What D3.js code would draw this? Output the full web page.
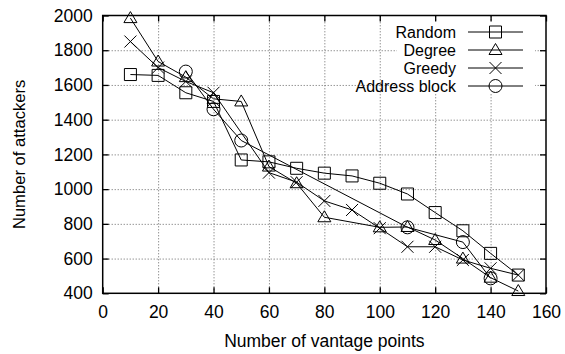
<!DOCTYPE html>
<html>
<head>
<meta charset="utf-8">
<script src="https://cdn.jsdelivr.net/npm/d3@7"></script>
<style>
  body { margin: 0; background: #fff; }
  text { font-family: "Liberation Sans", Arial, sans-serif; }
</style>
</head>
<body>
<div id="box"></div>
<script>
// canvas
const width = 565
const height = 354
const margin = {top: 15.5, right: 19, bottom: 60.7, left: 102.7}
const fontSize = '17.5px'

// data
const seriesNames = ['Random', 'Degree', 'Greedy', 'Address block']
const randomX = [10, 20, 30, 40, 50, 60, 70, 80, 90, 100, 110, 120, 130, 140, 150]
const randomY = [1660, 1655, 1555, 1505, 1168, 1157, 1120, 1092, 1076, 1034, 972, 865, 760, 630, 505]
const degreeX = [10, 20, 30, 40, 50, 60, 70, 80, 100, 110, 120, 130, 140, 150]
const degreeY = [1985, 1735, 1645, 1520, 1505, 1130, 1034, 838, 780, 782, 707, 600, 490, 413]
const greedyX = [10, 20, 30, 40, 60, 70, 80, 90, 100, 110, 120, 130, 140, 150]
const greedyY = [1850, 1700, 1620, 1555, 1095, 1040, 932, 880, 775, 668, 668, 592, 544, 505]
const addressX = [30, 40, 50, 110, 130, 140]
const addressY = [1677, 1460, 1280, 780, 695, 486]
const xTicks = [0, 20, 40, 60, 80, 100, 120, 140, 160]
const yTicks = [400, 600, 800, 1000, 1200, 1400, 1600, 1800, 2000]

const series = [
  {name: seriesNames[0], mark: 'square', xs: randomX, ys: randomY},
  {name: seriesNames[1], mark: 'triangle', xs: degreeX, ys: degreeY},
  {name: seriesNames[2], mark: 'cross', xs: greedyX, ys: greedyY},
  {name: seriesNames[3], mark: 'circle', xs: addressX, ys: addressY},
]

const x = d3.scaleLinear().domain([0, 160]).range([margin.left, width - margin.right])
const y = d3.scaleLinear().domain([400, 2000]).range([height - margin.bottom, margin.top])

const svg = d3.select('#box').append('svg')
  .attr('width', width)
  .attr('height', height)

// point marks, hollow like gnuplot
function markPath(type, cx, cy) {
  const h = 6
  if (type === 'square') return `M${cx - h},${cy - h}h${2 * h}v${2 * h}h${-2 * h}Z`
  if (type === 'triangle') return `M${cx},${cy - 6.5}L${cx + 6.5},${cy + 4.5}L${cx - 6.5},${cy + 4.5}Z`
  if (type === 'cross') return `M${cx - h},${cy - h}L${cx + h},${cy + h}M${cx - h},${cy + h}L${cx + h},${cy - h}`
  return `M${cx - 6.5},${cy}a6.5,6.5 0 1,0 13,0a6.5,6.5 0 1,0 -13,0Z`
}

// grid
const grid = svg.append('g')
grid.append('g')
  .attr('transform', `translate(0,${y(400)})`)
  .call(d3.axisBottom(x).tickValues(xTicks.slice(1, -1)).tickSize(-(y(400) - y(2000))).tickFormat(''))
grid.append('g')
  .attr('transform', `translate(${x(0)},0)`)
  .call(d3.axisLeft(y).tickValues(yTicks.slice(1, -1)).tickSize(-(x(160) - x(0))).tickFormat(''))
grid.selectAll('.domain').remove()
grid.selectAll('line')
  .attr('stroke', '#666')
  .attr('stroke-width', 1)
  .attr('stroke-dasharray', '1,2')

// axes with inward ticks on all four sides
const axB = svg.append('g').attr('transform', `translate(0,${y(400)})`)
  .call(d3.axisBottom(x).tickValues(xTicks).tickSize(-6).tickPadding(9).tickFormat(d3.format('d')))
const axT = svg.append('g').attr('transform', `translate(0,${y(2000)})`)
  .call(d3.axisTop(x).tickValues(xTicks).tickSize(-6).tickFormat(''))
const axL = svg.append('g').attr('transform', `translate(${x(0)},0)`)
  .call(d3.axisLeft(y).tickValues(yTicks).tickSize(-6).tickPadding(10).tickFormat(d3.format('d')))
const axR = svg.append('g').attr('transform', `translate(${x(160)},0)`)
  .call(d3.axisRight(y).tickValues(yTicks).tickSize(-6).tickFormat(''))
for (const ax of [axB, axT, axL, axR]) {
  ax.selectAll('.domain').remove()
  ax.selectAll('line').attr('stroke', '#000').attr('stroke-width', 1.3)
  ax.selectAll('text').attr('fill', '#000').style('font-size', fontSize)
}
axB.selectAll('text').attr('dy', '0.9em')

// frame
svg.append('rect')
  .attr('x', x(0)).attr('y', y(2000))
  .attr('width', x(160) - x(0)).attr('height', y(400) - y(2000))
  .attr('fill', 'none').attr('stroke', '#000').attr('stroke-width', 1.5)

// series
const line = d3.line().x(d => x(d[0])).y(d => y(d[1]))
for (const s of series) {
  const pts = s.xs.map((v, i) => [v, s.ys[i]])
  svg.append('path')
    .attr('d', line(pts))
    .attr('fill', 'none')
    .attr('stroke', '#000')
    .attr('stroke-width', 1)
  svg.append('g').selectAll('path').data(pts).join('path')
    .attr('d', d => markPath(s.mark, x(d[0]), y(d[1])))
    .attr('fill', 'none')
    .attr('stroke', '#000')
    .attr('stroke-width', 1)
}

// key (opaque)
const key = svg.append('g')
key.append('rect')
  .attr('x', 397).attr('y', 22).attr('width', 138).attr('height', 72)
  .attr('fill', '#fff')
const rowY = [32, 50, 68, 86]
series.forEach((s, i) => {
  key.append('text')
    .attr('x', 456).attr('y', rowY[i]).attr('dy', '0.35em')
    .attr('text-anchor', 'end')
    .style('font-size', '16px')
    .text(s.name)
  key.append('line')
    .attr('x1', 468).attr('x2', 523).attr('y1', rowY[i]).attr('y2', rowY[i])
    .attr('stroke', '#000').attr('stroke-width', 1)
  key.append('path')
    .attr('d', markPath(s.mark, 495.5, rowY[i]))
    .attr('fill', 'none').attr('stroke', '#000').attr('stroke-width', 1)
})

// axis titles
svg.append('text')
  .attr('x', (x(0) + x(160)) / 2).attr('y', 347)
  .attr('text-anchor', 'middle')
  .style('font-size', fontSize)
  .text('Number of vantage points')
svg.append('text')
  .attr('transform', `translate(25,${(y(400) + y(2000)) / 2}) rotate(-90)`)
  .attr('text-anchor', 'middle')
  .style('font-size', '16.6px')
  .text('Number of attackers')
</script>
</body>
</html>
